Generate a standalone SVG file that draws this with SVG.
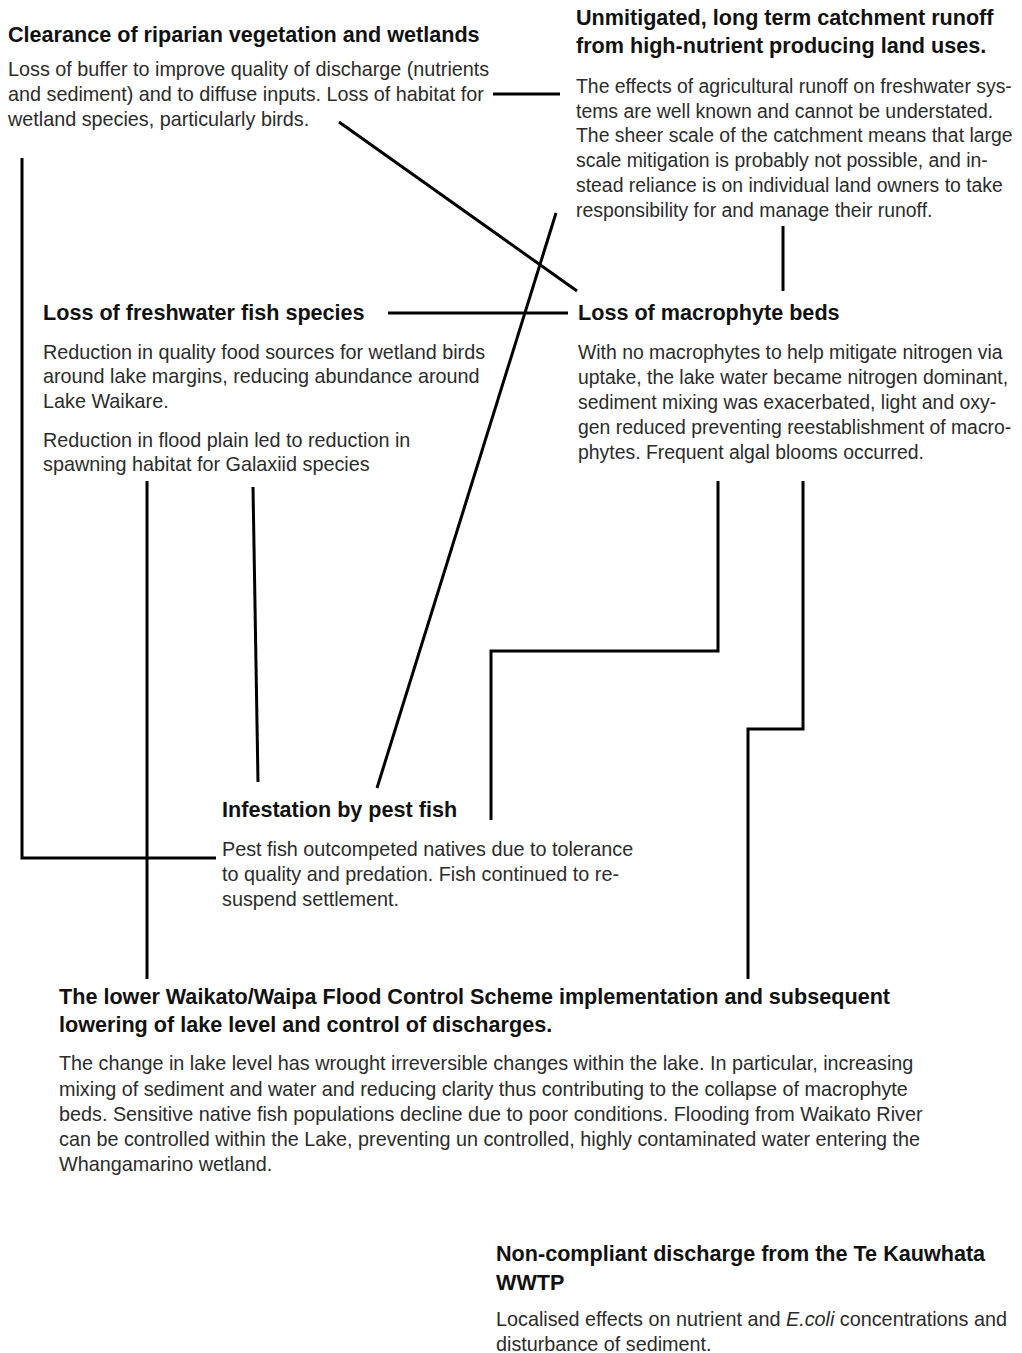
<svg xmlns="http://www.w3.org/2000/svg" width="1022" height="1353" viewBox="0 0 1022 1353">
<style>
.t{font-family:"Liberation Sans",Arial,sans-serif;font-weight:bold;font-size:21.6px;fill:#111}
.b{font-family:"Liberation Sans",Arial,sans-serif;font-size:19.8px;fill:#2b2b2b}
.n{font-size:19.4px}
.c{stroke:#000;stroke-width:3;fill:none;stroke-linejoin:miter}
</style>
<rect width="1022" height="1353" fill="#fff"/>
<g id="connectors">
<path class="c" d="M493,94 H560"/>
<path class="c" d="M339,122 L577,291"/>
<path class="c" d="M22,158 V858 H216"/>
<path class="c" d="M388,313 H568"/>
<path class="c" d="M783,226 V291"/>
<path class="c" d="M556,213 L377,788"/>
<path class="c" d="M147,481 V979"/>
<path class="c" d="M253,487 L258,782"/>
<path class="c" d="M718,481 V651 H491 V820"/>
<path class="c" d="M803,481 V729 H748 V979"/>
</g>
<g id="clearance">
<text class="t" x="8" y="42">Clearance of riparian vegetation and wetlands</text>
<text class="b" x="8" y="76">Loss of buffer to improve quality of discharge (nutrients</text>
<text class="b" x="8" y="101">and sediment) and to diffuse inputs. Loss of habitat for</text>
<text class="b" x="8" y="126">wetland species, particularly birds.</text>
</g>
<g id="runoff">
<text class="t" x="576" y="25">Unmitigated, long term catchment runoff</text>
<text class="t" x="576" y="53">from high-nutrient producing land uses.</text>
<text class="b n" x="576" y="93">The effects of agricultural runoff on freshwater sys-</text>
<text class="b n" x="576" y="118">tems are well known and cannot be understated.</text>
<text class="b n" x="576" y="142">The sheer scale of the catchment means that large</text>
<text class="b n" x="576" y="167">scale mitigation is probably not possible, and in-</text>
<text class="b n" x="576" y="192">stead reliance is on individual land owners to take</text>
<text class="b n" x="576" y="217">responsibility for and manage their runoff.</text>
</g>
<g id="fish-loss">
<text class="t" x="43" y="320">Loss of freshwater fish species</text>
<text class="b" x="43" y="359">Reduction in quality food sources for wetland birds</text>
<text class="b" x="43" y="383">around lake margins, reducing abundance around</text>
<text class="b" x="43" y="408">Lake Waikare.</text>
<text class="b" x="43" y="447">Reduction in flood plain led to reduction in</text>
<text class="b" x="43" y="471">spawning habitat for Galaxiid species</text>
</g>
<g id="macrophyte">
<text class="t" x="578" y="320">Loss of macrophyte beds</text>
<text class="b n" x="578" y="359">With no macrophytes to help mitigate nitrogen via</text>
<text class="b n" x="578" y="384">uptake, the lake water became nitrogen dominant,</text>
<text class="b n" x="578" y="409">sediment mixing was exacerbated, light and oxy-</text>
<text class="b n" x="578" y="434">gen reduced preventing reestablishment of macro-</text>
<text class="b n" x="578" y="459">phytes. Frequent algal blooms occurred.</text>
</g>
<g id="pest-fish">
<text class="t" x="222" y="817">Infestation by pest fish</text>
<text class="b" x="222" y="856">Pest fish outcompeted natives due to tolerance</text>
<text class="b" x="222" y="881">to quality and predation. Fish continued to re-</text>
<text class="b" x="222" y="906">suspend settlement.</text>
</g>
<g id="flood-control">
<text class="t" x="59" y="1004">The lower Waikato/Waipa Flood Control Scheme implementation and subsequent</text>
<text class="t" x="59" y="1032">lowering of lake level and control of discharges.</text>
<text class="b" x="59" y="1070">The change in lake level has wrought irreversible changes within the lake. In particular, increasing</text>
<text class="b" x="59" y="1096">mixing of sediment and water and reducing clarity thus contributing to the collapse of macrophyte</text>
<text class="b" x="59" y="1121">beds. Sensitive native fish populations decline due to poor conditions. Flooding from Waikato River</text>
<text class="b" x="59" y="1146">can be controlled within the Lake, preventing un controlled, highly contaminated water entering the</text>
<text class="b" x="59" y="1171">Whangamarino wetland.</text>
</g>
<g id="wwtp">
<text class="t" x="496" y="1261">Non-compliant discharge from the Te Kauwhata</text>
<text class="t" x="496" y="1290">WWTP</text>
<text class="b" x="496" y="1326">Localised effects on nutrient and <tspan font-style="italic">E.coli</tspan> concentrations and</text>
<text class="b" x="496" y="1351">disturbance of sediment.</text>
</g>
</svg>
